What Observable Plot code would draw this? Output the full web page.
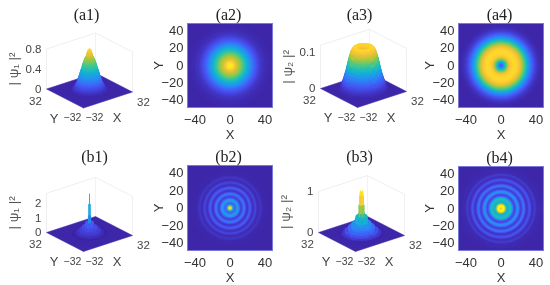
<!DOCTYPE html>
<html>
<head>
<meta charset="utf-8">
<script src="https://cdn.jsdelivr.net/npm/d3@7"></script>
<script src="https://cdn.jsdelivr.net/npm/@observablehq/plot@0.6"></script>
<style>
html,body{margin:0;padding:0;background:#fff}
#chart{position:relative;width:550px;height:285px;overflow:hidden;background:#fff;filter:blur(0.45px)}
</style>
</head>
<body>
<div id="chart"></div>
<script>
// Radial profiles, one value per unit of radius.
const a2Profile = [.97,.97,.96,.95,.93,.9,.87,.84,.82,.8,.78,.76,.74,.72,.69,.66,.63,.6,.57,.54,.51,.48,.45,.42,.39,.36,.33,.3,.27,.24,.22,.2,.18,.16,.14,.12,.1,.09,.08,.07,.06,.05,.04,.04,.03,.03,.02,.02,.01,.01,0];
const a4Profile = [.26,.28,.33,.42,.52,.6,.66,.73,.79,.84,.87,.9,.91,.92,.93,.93,.93,.93,.92,.91,.89,.87,.85,.82,.79,.75,.71,.67,.62,.57,.52,.47,.42,.38,.34,.3,.26,.22,.19,.16,.13,.11,.09,.07,.05,.04,.03,.02,.02,.01,.01];
const b2Profile = [.98,.95,.8,.58,.38,.28,.28,.36,.43,.45,.41,.3,.19,.14,.2,.29,.34,.3,.2,.12,.1,.16,.23,.26,.21,.13,.08,.09,.14,.18,.14,.08,.05,.06,.09,.11,.08,.05,.03,.03,.02,.02,.02,.02,.01,.01,.01,.01,.01,.01,.01];
const b4Profile = [.86,.9,.98,1,.93,.78,.63,.54,.52,.55,.58,.58,.53,.42,.28,.19,.18,.28,.38,.43,.38,.27,.17,.14,.2,.29,.34,.28,.18,.11,.1,.16,.21,.23,.17,.1,.07,.08,.12,.13,.09,.05,.04,.04,.04,.03,.03,.02,.02,.02,.02];

const heatTicksX = [-40, 0, 40];
const heatTicksY = [-40, -20, 0, 20, 40];
const a1ZTicks = [0, 0.4, 0.8];
const a3ZTicks = [0, 0.1];
const b1ZTicks = [0, 1, 2];
const b3ZTicks = [0, 1];

const parula = ["#3e26a8","#4852f4","#2d87f7","#12b1d6","#37c897","#abc739","#fec338","#f9fb14"];
const colorScale = {type:"pow", exponent:1.3, domain:[0,1], interpolate:d3.piecewise(d3.interpolateRgb, parula)};

const chart = document.getElementById("chart");
const FONT = "'Liberation Sans',Arial,sans-serif";
const SERIF = "'Liberation Serif','Times New Roman',serif";

function place(svg){ chart.appendChild(svg); }
function baseStyle(left, top){
  return {position:"absolute", left:left+"px", top:top+"px", background:"transparent", overflow:"visible", fontFamily:FONT, color:"#333"};
}
function titleMark(text, dx, dy){
  return Plot.text([text], {text:d=>d, frameAnchor:"top", lineAnchor:"middle", dx, dy, fontSize:16, fill:"#222", fontFamily:SERIF});
}

// ---------- heat map panels ----------
function heatPanel({title, profile, left, top, frameL, frameR, frameT, frameB, titleDx}){
  const width = 138, height = 143;
  const half = 48.5, halfPx = (frameR-frameL)/2;
  const rings = profile.map((v,i)=>({radius:i+.5, v}));
  place(Plot.plot({
    width, height,
    marginLeft:frameL-left, marginRight:width-(frameR-left),
    marginTop:frameT, marginBottom:height-frameB,
    style:baseStyle(left, top),
    x:{domain:[-half,half]}, y:{domain:[-half,half]},
    r:{type:"linear", domain:[0,half], range:[0,halfPx]},
    color:colorScale,
    marks:[
      Plot.frame({fill:parula[0]}),
      Plot.dot(rings, {x:()=>0, y:()=>0, r:"radius", fill:"v", clip:true}),
      Plot.frame({stroke:"#7a78d8", strokeWidth:1}),
      Plot.axisX({ticks:heatTicksX, tickSize:0, tickPadding:7, fontSize:13, label:"X", labelAnchor:"center", labelArrow:"none", labelOffset:31}),
      Plot.axisY({ticks:heatTicksY, tickSize:0, tickPadding:4, fontSize:13, label:"Y", labelAnchor:"center", labelArrow:"none", labelOffset:34}),
      titleMark(title, titleDx, -9)
    ]
  }));
}

// ---------- pseudo 3-D surface panels ----------
const sx = (X,Y)=>X*49/64 - Y*37/64;
const sy = (X,Y)=>X*16/64 + Y*19/64;
const axisLabels = [
  {X:-32,Y:32,  text:"32",  dx:-11, dy:12},
  {X:-32,Y:0,   text:"Y",   dx:-11, dy:20},
  {X:-32,Y:-32, text:"−32", dx:-11, dy:10},
  {X:-32,Y:-32, text:"−32", dx:11,  dy:10},
  {X:0,  Y:-32, text:"X",   dx:9,   dy:18},
  {X:32, Y:-32, text:"32",  dx:11,  dy:10}
];

function surfacePanel({title, yLabel, profile, left, top, cx, cy, zPx, zMax, zTop, zTicks, titleDx, ratio, exp, ruleWidth, colorGain}){
  const width = 137, height = 143;
  const Z = (z)=>z*zPx;
  const columns = [];
  for (let X=-32; X<=32; X+=0.8) for (let Y=-32; Y<=32; Y+=0.8) {
    const r = Math.hypot(X,Y)/ratio;
    const v = profile[Math.round(r)];
    if (v===undefined || v<0.012) continue;
    columns.push({sx:sx(X,Y), base:sy(X,Y), top:sy(X,Y)+Z(Math.pow(v,exp)*zMax), v:v*colorGain, depth:sy(X,Y)});
  }
  columns.sort((a,b)=>b.depth-a.depth);
  const floor = [[-32,-32],[32,-32],[32,32],[-32,32],[-32,-32]];
  const wall = [[-32,32,0],[-32,32,zTop],[32,32,zTop],[32,-32,zTop],[32,-32,0]];
  const backEdge = [[32,32,0],[32,32,zTop]];
  const xOf = d=>sx(d[0],d[1]);
  const yOf = d=>sy(d[0],d[1]);
  const yzOf = d=>sy(d[0],d[1])+Z(d[2]);
  place(Plot.plot({
    width, height, margin:0,
    style:baseStyle(left, top),
    x:{domain:[-cx, width-cx], axis:null},
    y:{domain:[cy-height, cy], axis:null},
    color:colorScale,
    marks:[
      Plot.line(wall, {x:xOf, y:yzOf, stroke:"#efeff3", strokeWidth:1}),
      Plot.line(backEdge, {x:xOf, y:yzOf, stroke:"#f2f2f5", strokeWidth:1}),
      Plot.line(floor, {x:xOf, y:yOf, fill:parula[0], stroke:parula[0], strokeWidth:.5}),
      Plot.ruleX(columns, {x:"sx", y1:"base", y2:"top", stroke:"v", strokeWidth:ruleWidth}),
      Plot.text(zTicks, {x:()=>sx(-32,32), y:d=>sy(-32,32)+Z(d), text:d=>String(d), textAnchor:"end", dx:-5, fontSize:11.5, fill:"#444"}),
      ...axisLabels.map(l=>Plot.text([l], {x:d=>sx(d.X,d.Y), y:d=>sy(d.X,d.Y), text:"text", dx:l.dx, dy:l.dy, fontSize:l.text.length===1?13:(l.text.length===3?10.5:11.5), fill:"#444"})),
      Plot.text([yLabel], {x:()=>sx(-32,32), y:()=>sy(-32,32)+Z(zTop)/2, text:d=>d, rotate:-90, dx:-33, fontSize:13.5, fill:"#555"}),
      titleMark(title, titleDx, 14)
    ]
  }));
}

surfacePanel({title:"(a1)", yLabel:"| ψ₁ |²", profile:a2Profile, left:0, top:0, cx:89, cy:90, zPx:50, zMax:.86, zTop:.8, zTicks:a1ZTicks, titleDx:17.5, ratio:.45, exp:1.2, ruleWidth:1.5, colorGain:.96});
heatPanel({title:"(a2)", profile:a2Profile, left:137, top:0, frameL:187, frameR:272, frameT:23, frameB:107, titleDx:-1.5});
surfacePanel({title:"(a3)", yLabel:"| ψ₂ |²", profile:a4Profile, left:275, top:0, cx:88, cy:89.5, zPx:360, zMax:.128, zTop:.12, zTicks:a3ZTicks, titleDx:15.5, ratio:.56, exp:1, ruleWidth:1.5, colorGain:1});
heatPanel({title:"(a4)", profile:a4Profile, left:412, top:0, frameL:458, frameR:543, frameT:23, frameB:107, titleDx:-1.5});
surfacePanel({title:"(b1)", yLabel:"| ψ₁ |²", profile:b2Profile, left:0, top:142, cx:89, cy:91.5, zPx:14.5, zMax:2.84, zTop:2.7, zTicks:b1ZTicks, titleDx:25.5, ratio:.42, exp:1.5, ruleWidth:1, colorGain:.6});
heatPanel({title:"(b2)", profile:b2Profile, left:137, top:142, frameL:187, frameR:272, frameT:23, frameB:108, titleDx:-1.5});
surfacePanel({title:"(b3)", yLabel:"| ψ₂ |²", profile:b4Profile, left:275, top:142, cx:86, cy:91.5, zPx:41, zMax:1.04, zTop:1, zTicks:b3ZTicks, titleDx:15.5, ratio:.5, exp:1.6, ruleWidth:1.2, colorGain:.95});
heatPanel({title:"(b4)", profile:b4Profile, left:412, top:142, frameL:458, frameR:543, frameT:24, frameB:108, titleDx:-1.5});
</script>
</body>
</html>
